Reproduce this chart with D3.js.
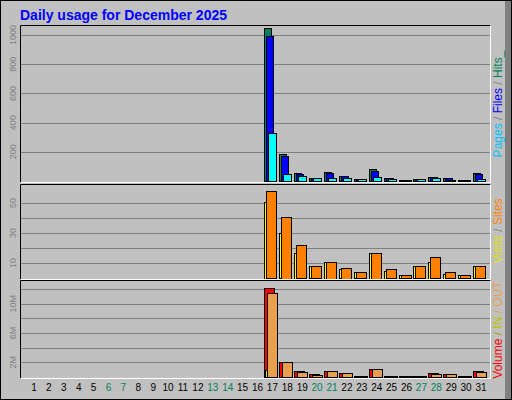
<!DOCTYPE html>
<html><head><meta charset="utf-8">
<script src="https://cdn.jsdelivr.net/npm/d3@7"></script>
<style>body{margin:0;background:#fff}svg{display:block}</style>
</head><body><svg id="c" width="512" height="400"></svg>
<script>
const days = d3.range(1,32);
const weekend = [6,7,13,14,20,21,27,28];
const hits  = [0,0,0,0,0,0,0,0,0,0,0,0,0,0,0,0,1050,186,57,23,64,37,16,85,23,9,16,30,23,9,57];
const files = [0,0,0,0,0,0,0,0,0,0,0,0,0,0,0,0,993,170,48,23,55,37,16,71,18,9,16,30,23,9,48];
const pages = [0,0,0,0,0,0,0,0,0,0,0,0,0,0,0,0,331,48,34,23,23,23,16,30,14,9,16,23,9,9,16];
const visits= [0,0,0,0,0,0,0,0,0,0,0,0,0,0,0,0,58,41,22,8,11,7,4,17,6,2,8,14,4,2,8];
const sites = [0,0,0,0,0,0,0,0,0,0,0,0,0,0,0,0,51,30,17,8,11,6,4,17,5,2,8,11,3,2,8];
const volume= [0,0,0,0,0,0,0,0,0,0,0,0,0,0,0,0,12.1,2.1,0.8,0.4,0.8,0.5,0.2,1.1,0.2,0.2,0.2,0.5,0.4,0.2,0.8];
const volIn = [0,0,0,0,0,0,0,0,0,0,0,0,0,0,0,0,0.9,0,0,0,0,0,0,0,0,0,0,0,0,0,0];
const volOut= [0,0,0,0,0,0,0,0,0,0,0,0,0,0,0,0,11.5,2.0,0.7,0.3,0.8,0.5,0.2,1.1,0.2,0.2,0.2,0.4,0.4,0.2,0.7];
const ticks1=[200,400,600,800,1000], ticks2=[10,20,30,40,50], ticks3=[2,4,6,8,10,12];
const ticks2Lab=[10,30,50], ticks3Lab=[2,6,10];

const svg=d3.select('#c');
const F="'Liberation Sans',Arial,sans-serif";
svg.append('rect').attr('x',0).attr('y',0).attr('width',512).attr('height',400).attr('fill','#c0c0c0');
svg.append('rect').attr('x',505).attr('y',1).attr('width',6).attr('height',398).attr('fill','#808080');
svg.append('rect').attr('x',0.5).attr('y',0.5).attr('width',511).attr('height',399).attr('fill','none').attr('stroke','#000');
svg.append('text').attr('x',20).attr('y',20).attr('font-family',F).attr('font-weight','bold').attr('font-size',14).attr('fill','#0000ff').text('Daily usage for December 2025');

const x=d3.scaleLinear().domain([1,31]).range([34,481]);
const L=20,R=490;
function panel(top,bot,max,gridT,labT,labFmt,series){
  const y=d3.scaleLinear().domain([0,max]).range([bot-1,top+1]);
  const g=svg.append('g');
  g.selectAll('.gl').data(gridT).join('line').attr('x1',L+1).attr('x2',R).attr('y1',d=>Math.round(y(d))+0.5).attr('y2',d=>Math.round(y(d))+0.5).attr('stroke','#808080');
  g.selectAll('.tl').data(labT).join('text').attr('transform',d=>`translate(16,${y(d)}) rotate(-90)`).attr('text-anchor','middle').attr('font-family',F).attr('font-size',9).attr('fill','#808080').text(labFmt);
  series.forEach(s=>{
    g.selectAll(null).data(days.filter((d,i)=>s.v[i]>0)).join('rect')
     .attr('x',d=>Math.round(x(d))+s.off+0.5).attr('width',s.w)
     .attr('y',d=>Math.round(y(s.v[d-1]))+0.5).attr('height',d=>Math.max(1,Math.round(y(0)-y(s.v[d-1]))))
     .attr('fill',s.c).attr('stroke','#000');
  });
  g.append('path').attr('d',`M${L+0.5},${bot+0.5}V${top+0.5}H${R+0.5}`).attr('fill','none').attr('stroke','#000');
  g.append('path').attr('d',`M${L+0.5},${bot+0.5}H${R+0.5}V${top+0.5}`).attr('fill','none').attr('stroke','#fff');
}
panel(25,182,1062,ticks1,ticks1,d=>d,[
  {v:hits,c:'#00805c',off:-8,w:7},{v:files,c:'#0000ff',off:-6,w:7},{v:pages,c:'#00ffff',off:-4,w:8}]);
panel(184,279,62,ticks2,ticks2Lab,d=>d,[
  {v:sites,c:'#ffff00',off:-8,w:9},{v:visits,c:'#ff8000',off:-6,w:10}]);
panel(280,378,13.1,ticks3,ticks3Lab,d=>d+'M',[
  {v:volume,c:'#ff0000',off:-8,w:10},{v:volIn,c:'#c0ff00',off:-7,w:2},{v:volOut,c:'#e8a050',off:-5,w:10}]);

svg.selectAll('.dl').data(days).join('text').attr('x',d=>x(d)).attr('y',391).attr('text-anchor','middle')
  .attr('font-family',F).attr('font-size',10).attr('fill',d=>weekend.includes(d)?'#00805c':'#000').text(d=>d);

function rlab(cy,parts){
  const t=svg.append('text').attr('transform',`translate(502,${cy}) rotate(-90)`).attr('text-anchor','middle').attr('font-family',F).attr('font-size',12);
  parts.forEach(p=>t.append('tspan').attr('fill',p[1]).text(p[0]));
}
rlab(104,[['Pages','#00c0ff'],[' / ','#808080'],['Files','#0000ff'],[' / ','#808080'],['Hits','#00805c'],['_','#00805c']]);
rlab(231,[['Visits','#e0e000'],[' / ','#808080'],['Sites','#ff8000']]);
rlab(330,[['Volume','#ff0000'],[' / ','#a0a000'],['IN','#c0c000'],[' / ','#e8a050'],['OUT','#e8a050']]);
</script></body></html>
